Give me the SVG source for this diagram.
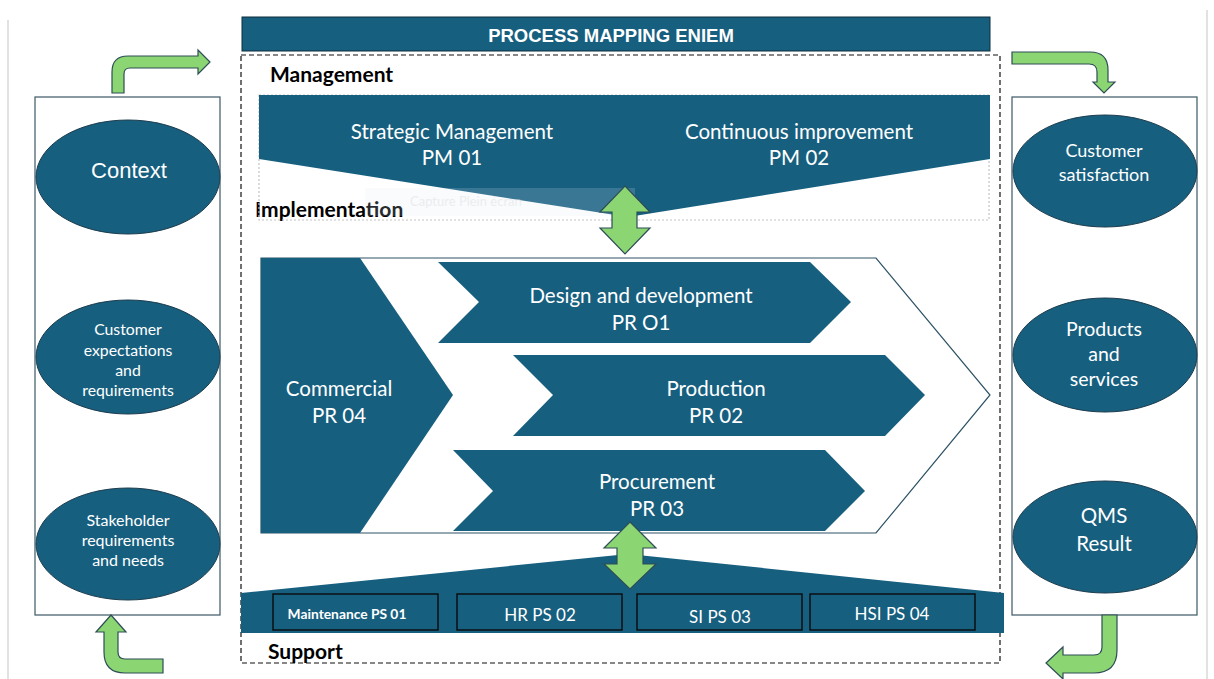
<svg xmlns="http://www.w3.org/2000/svg" width="1214" height="679" viewBox="0 0 1214 679">
  <style>
    .teal { fill: #175f7f; }
    .ell { fill: #175f7f; stroke: #1d3d4e; stroke-width: 1; }
    .col { fill: #ffffff; stroke: #3d5866; stroke-width: 1.2; }
    .green { fill: #8bd672; stroke: #2e4d57; stroke-width: 1.2; }
    .box { fill: #175f7f; stroke: #0a0f12; stroke-width: 1.5; }
    .wt { fill: #ffffff; font-family: Lato, "Liberation Sans", Arial, sans-serif; text-anchor: middle; }
    .ar { fill: #ffffff; font-family: "Liberation Sans", Arial, sans-serif; text-anchor: middle; }
    .lbl { fill: #000000; font-family: Lato, "Liberation Sans", Arial, sans-serif; font-weight: bold; font-size: 21px; }
    .big { font-size: 20.5px; }
  </style>

  <rect x="0" y="0" width="1214" height="679" fill="#ffffff"/>
  <!-- page edges -->
  <line x1="8" y1="20" x2="8" y2="679" stroke="#e2e2e2" stroke-width="2"/>
  <line x1="1207" y1="10" x2="1207" y2="679" stroke="#e2e2e2" stroke-width="2"/>

  <!-- title -->
  <g id="title">
    <rect x="242" y="17" width="748" height="34" class="teal" stroke="#0e2f40" stroke-width="1"/>
    <text x="611" y="42" class="ar" font-weight="bold" font-size="18.5">PROCESS MAPPING ENIEM</text>
  </g>

  <!-- dashed process frame -->
  <rect x="241" y="55" width="759" height="608" fill="none" stroke="#111" stroke-width="1.2" stroke-dasharray="5,3"/>

  <text x="270" y="82" class="lbl">Management</text>
  <text x="255" y="217" class="lbl">Implementation</text>
  <text x="268" y="659" class="lbl">Support</text>

  <!-- management -->
  <g id="management">
    <rect x="259" y="95" width="730" height="125" fill="none" stroke="#c4c4c4" stroke-width="1.2" stroke-dasharray="2,2"/>
    <polygon points="259,95 990,95 990,159 628,217 259,159" class="teal"/>
    <rect x="365" y="188" width="270" height="28" fill="#dce8f4" opacity="0.18"/>
    <text x="410" y="206" font-family="Lato, 'Liberation Sans', sans-serif" font-size="13" fill="#dcdcdc" opacity="0.45">Capture Plein écran</text>
    <text x="452" y="139" class="wt big">Strategic Management</text>
    <text x="452" y="165" class="wt big">PM 01</text>
    <text x="799" y="139" class="wt big">Continuous improvement</text>
    <text x="799" y="165" class="wt big">PM 02</text>
  </g>

  <!-- implementation -->
  <g id="implementation">
    <polygon points="261,258 876,258 990,395 876,533 261,533" fill="#ffffff" stroke="#2e5366" stroke-width="1.2"/>
  </g>
  <g id="commercial">
    <polygon points="261,258 360,258 453,395 360,533 261,533" class="teal"/>
    <text x="339" y="396" class="wt big">Commercial</text>
    <text x="339" y="423" class="wt big">PR 04</text>
  </g>
  <g id="design">
    <polygon points="438,262 810,262 851,302 810,343 438,343 479,302" class="teal"/>
    <text x="641" y="303" class="wt big">Design and development</text>
    <text x="641" y="330" class="wt big">PR O1</text>
  </g>
  <g id="production">
    <polygon points="513,355 885,355 925,395 885,436 513,436 553,395" class="teal"/>
    <text x="716" y="396" class="wt big">Production</text>
    <text x="716" y="423" class="wt big">PR 02</text>
  </g>
  <g id="procurement">
    <polygon points="453,450 825,450 865,491 825,531 453,531 493,491" class="teal"/>
    <text x="657" y="489" class="wt big">Procurement</text>
    <text x="657" y="516" class="wt big">PR 03</text>
  </g>

  <!-- support -->
  <g id="support">
    <polygon points="241,593 628,554 1004,593 1004,633 241,633" class="teal"/>
  </g>
  <g id="ps01">
    <rect x="273" y="594" width="165" height="36" class="box"/>
    <text x="347" y="619" class="wt" font-size="13.8" font-weight="bold">Maintenance PS 01</text>
  </g>
  <g id="ps02">
    <rect x="457" y="594" width="165" height="36" class="box"/>
    <text x="540" y="621" class="wt" font-size="17">HR PS 02</text>
  </g>
  <g id="ps03">
    <rect x="637" y="594" width="165" height="36" class="box"/>
    <text x="720" y="623" class="wt" font-size="17">SI PS 03</text>
  </g>
  <g id="ps04">
    <rect x="810" y="594" width="165" height="36" class="box"/>
    <text x="892" y="620" class="wt" font-size="17">HSI PS 04</text>
  </g>

  <!-- left column -->
  <g id="inputs">
    <rect x="35" y="97" width="185" height="518" class="col"/>
  </g>
  <g id="context">
    <ellipse cx="128" cy="177" rx="92" ry="57" class="ell"/>
    <text x="129" y="178" class="ar" font-size="22">Context</text>
  </g>
  <g id="expectations">
    <ellipse cx="128" cy="357" rx="92" ry="57" class="ell"/>
    <text x="128" y="335" class="wt" font-size="15.8">Customer</text>
    <text x="128" y="356" class="wt" font-size="15.8">expectations</text>
    <text x="128" y="376" class="wt" font-size="15.8">and</text>
    <text x="128" y="396" class="wt" font-size="15.8">requirements</text>
  </g>
  <g id="stakeholder">
    <ellipse cx="128" cy="544" rx="92" ry="56" class="ell"/>
    <text x="128" y="526" class="wt" font-size="16">Stakeholder</text>
    <text x="128" y="546" class="wt" font-size="16">requirements</text>
    <text x="128" y="566" class="wt" font-size="16">and needs</text>
  </g>

  <!-- right column -->
  <g id="outputs">
    <rect x="1012" y="97" width="185" height="518" class="col"/>
  </g>
  <g id="satisfaction">
    <ellipse cx="1105" cy="171" rx="92" ry="56" class="ell"/>
    <text x="1104" y="157" class="wt" font-size="18">Customer</text>
    <text x="1104" y="181" class="wt" font-size="18">satisfaction</text>
  </g>
  <g id="products">
    <ellipse cx="1105" cy="355" rx="92" ry="57" class="ell"/>
    <text x="1104" y="336" class="wt" font-size="19.5">Products</text>
    <text x="1104" y="361" class="wt" font-size="19.5">and</text>
    <text x="1104" y="386" class="wt" font-size="19.5">services</text>
  </g>
  <g id="qms">
    <ellipse cx="1105" cy="537" rx="92" ry="56" class="ell"/>
    <text x="1104" y="523" class="wt" font-size="20.5">QMS</text>
    <text x="1104" y="551" class="wt" font-size="20.5">Result</text>
  </g>

  <!-- connectors -->
  <g id="connectors">
    <path class="green" d="M625,186 L650,212 L637,212 L637,228 L650,228 L625,254 L600,228 L612,228 L612,212 L600,212 Z"/>
    <path class="green" d="M630,522 L656,548 L643,548 L643,564 L656,564 L630,589 L604,564 L617,564 L617,548 L604,548 Z"/>
    <path class="green" d="M112,93 L112,72 Q112,56 128,56 L198,56 L198,50 L210,62 L198,74 L198,68 L130,68 Q124,68 124,74 L124,93 Z"/>
    <path class="green" d="M1012,52 L1090,52 Q1108,52 1108,70 L1108,82 L1115,82 L1104,93 L1093,82 L1097,82 L1097,72 Q1097,64 1089,64 L1012,64 Z"/>
    <path class="green" d="M1102,615 L1117,615 L1117,650 Q1117,673 1094,673 L1063,673 L1063,679 L1046,663 L1063,647 L1063,655 L1094,655 Q1102,655 1102,647 Z"/>
    <path class="green" d="M111,615 L126,632 L118,632 L118,652 Q118,659 125,659 L163,659 L163,673 L125,673 Q104,673 104,652 L104,632 L96,632 Z"/>
  </g>
</svg>
